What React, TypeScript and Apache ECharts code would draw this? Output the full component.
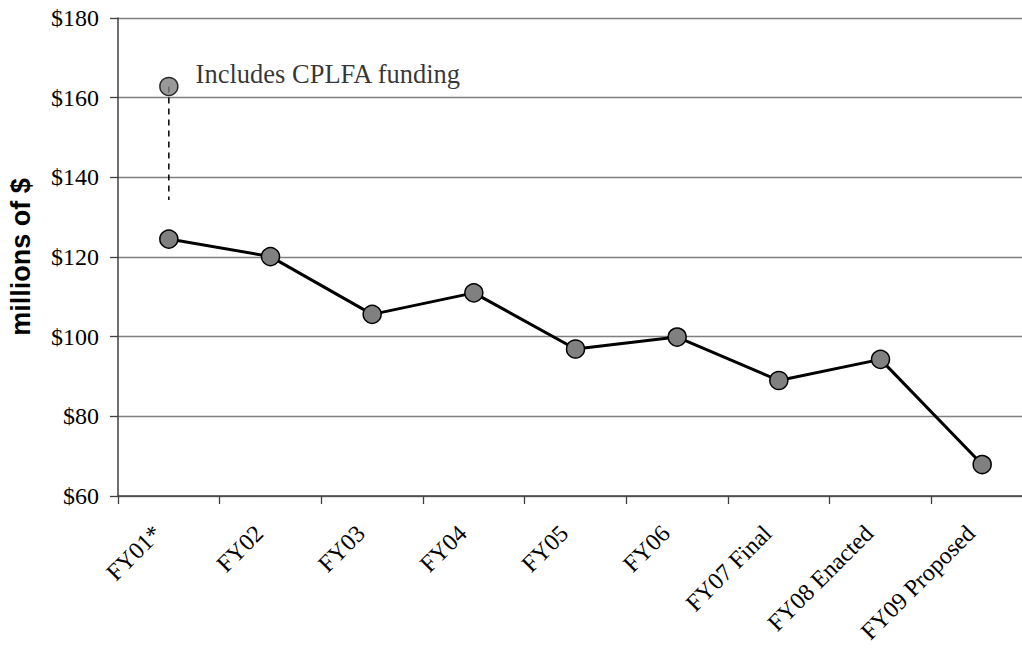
import React, { useEffect, useRef } from "react";
import * as echarts from "echarts";

const categories = [
  "FY01*",
  "FY02",
  "FY03",
  "FY04",
  "FY05",
  "FY06",
  "FY07 Final",
  "FY08 Enacted",
  "FY09 Proposed",
];
const funding = [124.5, 120.1, 105.6, 111.0, 96.9, 99.9, 89.0, 94.3, 67.9];
const cplfaIndex = 0;
const cplfaValue = 162.8;
const connectorBottom = 134.3;
const cplfaNote = "Includes CPLFA funding";
const yMin = 60;
const yMax = 180;
const yInterval = 20;
const yTitle = "millions of $";

const serif = "'Liberation Serif', 'Times New Roman', serif";
const sans = "'Liberation Sans', Arial, sans-serif";

export default function App() {
  const ref = useRef<HTMLDivElement>(null);
  useEffect(() => {
    if (!ref.current) return;
    const chart = echarts.init(ref.current, undefined, { renderer: "svg" });
    chart.setOption({
      animation: false,
      backgroundColor: "#ffffff",
      grid: {
        left: 118,
        top: 18,
        width: 915,
        height: 478,
        containLabel: false,
        outerBoundsMode: "none",
      },
      xAxis: {
        type: "category",
        data: categories,
        boundaryGap: true,
        axisLine: { lineStyle: { color: "#404040", width: 1.5 } },
        axisTick: { show: true, length: 8, lineStyle: { color: "#404040", width: 1.3 } },
        axisLabel: {
          interval: 0,
          rotate: 45,
          margin: 22,
          padding: [0, 16, 0, 0],
          fontFamily: serif,
          fontSize: 24,
          color: "#000",
        },
        splitLine: { show: false },
      },
      yAxis: {
        type: "value",
        min: yMin,
        max: yMax,
        interval: yInterval,
        name: yTitle,
        nameLocation: "middle",
        nameRotate: 90,
        nameGap: 84,
        nameTextStyle: { fontFamily: sans, fontWeight: "bold", fontSize: 27, color: "#000" },
        axisLine: { show: true, lineStyle: { color: "#404040", width: 1.5 } },
        axisTick: { show: true, length: 8, lineStyle: { color: "#404040", width: 1.3 } },
        axisLabel: {
          margin: 19,
          fontFamily: serif,
          fontSize: 24,
          color: "#000",
          formatter: (v: number) => "$" + v,
        },
        splitLine: { show: true, lineStyle: { color: "#7f7f7f", width: 1.4 } },
      },
      series: [
        {
          type: "line",
          data: funding,
          lineStyle: { color: "#000", width: 3 },
          symbol: "circle",
          symbolSize: 18,
          itemStyle: { color: "#808080", borderColor: "#000", borderWidth: 1.5 },
          z: 3,
        },
        {
          type: "line",
          data: [
            [cplfaIndex, cplfaValue],
            [cplfaIndex, connectorBottom],
          ],
          symbol: "none",
          lineStyle: { color: "#000", width: 1.5, type: [6, 5] },
          z: 2,
        },
        {
          type: "scatter",
          data: [[cplfaIndex, cplfaValue]],
          symbol: "circle",
          symbolSize: 18,
          itemStyle: { color: "#808080", borderColor: "#000", borderWidth: 1.5 },
          label: {
            show: true,
            position: "right",
            distance: 17,
            offset: [0, -13],
            formatter: () => cplfaNote,
            fontFamily: serif,
            fontSize: 26.5,
            color: "#000",
          },
          z: 4,
        },
      ],
    });
    return () => chart.dispose();
  }, []);
  return (
    <div
      ref={ref}
      style={{ position: "fixed", left: 0, top: 0, width: 1022, height: 651, background: "#fff" }}
    />
  );
}
